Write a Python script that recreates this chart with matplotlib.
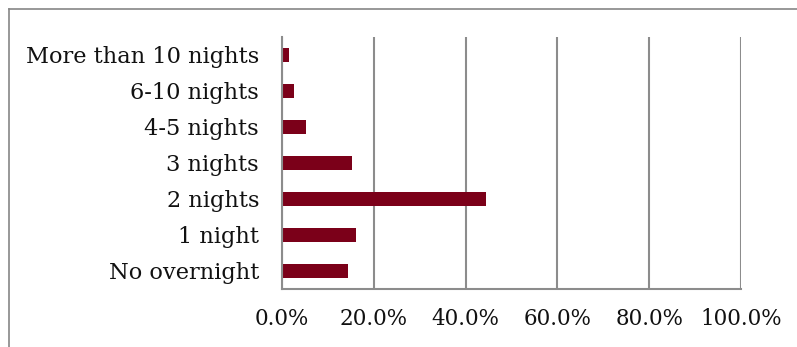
import matplotlib
matplotlib.use("Agg")
import matplotlib.pyplot as plt
from matplotlib.lines import Line2D
from matplotlib.ticker import FuncFormatter, MultipleLocator

categories = ["No overnight", "1 night", "2 nights", "3 nights",
              "4-5 nights", "6-10 nights", "More than 10 nights"]
shares = [14.4, 16.1, 44.4, 15.2, 5.2, 2.6, 1.5]

W, H = 797, 347
fig = plt.figure(figsize=(W / 100, H / 100), dpi=100)
fig.patch.set_facecolor("white")

grid_color = "#8c8c8c"
bar_color = "#7b0019"

ax = fig.add_axes([282 / W, 1 - 289 / H, (741 - 282) / W, (289 - 37) / H])
ax.barh(range(len(categories)), shares, height=0.4, color=bar_color)
ax.set_xlim(0, 100)
ax.set_ylim(-0.5, len(categories) - 0.5)
ax.set_yticks(range(len(categories)))
ax.set_yticklabels(categories)
ax.xaxis.set_major_locator(MultipleLocator(20))
ax.xaxis.set_major_formatter(FuncFormatter(lambda v, _: f"{v:.1f}%"))
ax.grid(axis="x", color=grid_color, linewidth=1.5)
ax.set_axisbelow(True)
for side in ("top", "right"):
    ax.spines[side].set_visible(False)
for side in ("left", "bottom"):
    ax.spines[side].set_color(grid_color)
    ax.spines[side].set_linewidth(1.5)
ax.tick_params(length=0, colors="#111111")
ax.tick_params(axis="y", pad=16.5, labelsize=16.2)
ax.tick_params(axis="x", pad=13.5, labelsize=15.5)
for lbl in ax.get_xticklabels() + ax.get_yticklabels():
    lbl.set_fontfamily("DejaVu Serif")

# outer chart frame (top and left edges)
fx, fy = 8.5 / W, 1 - 8.5 / H
fig.add_artist(Line2D([fx, 1], [fy, fy], color="#868686", linewidth=1.2,
                      transform=fig.transFigure))
fig.add_artist(Line2D([fx, fx], [fy, 0], color="#868686", linewidth=1.2,
                      transform=fig.transFigure))

fig.savefig("out.png", dpi=100)
